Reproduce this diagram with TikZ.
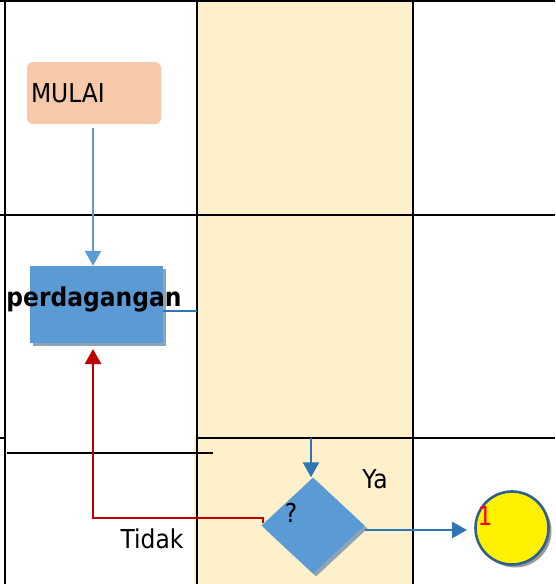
\documentclass[tikz,border=0pt]{standalone}
\usepackage{fontspec}
\setmainfont{DejaVu Sans}[FakeStretch=0.9]
\usetikzlibrary{shapes.geometric,arrows.meta,shadows}
\definecolor{cream}{HTML}{FFF0CC}
\definecolor{peach}{HTML}{F7C9AB}
\definecolor{boxblue}{HTML}{5B9BD5}
\definecolor{darkblue}{HTML}{2E75B6}
\definecolor{shadowgray}{HTML}{8FA3B8}
\definecolor{redline}{HTML}{C00000}
\definecolor{circedge}{HTML}{2F5F8F}
\tikzset{
  grid/.style={black, line width=2.7pt},
  txt/.style={font=\fontsize{26}{30}\selectfont, inner sep=0pt},
  bshadow/.style={drop shadow={shadow xshift=3pt, shadow yshift=-3pt, fill=shadowgray, opacity=1}},
  conn/.style={line width=2.6pt, -{Triangle[width=16pt,length=15pt]}},
}
\begin{document}
\begin{tikzpicture}[x=1pt,y=-1pt]
\useasboundingbox (0,0) rectangle (555,584);
% lane background
\fill[cream] (197,0) rectangle (413,584);
\fill[cream] (194,436) rectangle (197,584);
% grid lines
\draw[grid] (0,0.8) -- (555,0.8);
\draw[grid] (5,0) -- (5,584);
\draw[grid] (197,0) -- (197,584);
\draw[grid] (413,0) -- (413,584);
\draw[grid] (0,215) -- (555,215);
\draw[grid] (0,438) -- (5,438);
\draw[grid] (197,438) -- (555,438);
\draw[grid] (7,453) -- (213,453);
% nodes
\node[rounded corners=6pt, fill=peach, minimum width=134pt, minimum height=62pt,
      text width=126pt, inner xsep=4pt, align=left, font=\fontsize{26}{30}\selectfont]
      (mulai) at (94,93) {MULAI};
\node[fill=boxblue, bshadow, minimum width=133pt, minimum height=77pt, inner sep=0pt]
      (pb) at (96.5,304.5) {};
\node[txt, font=\fontsize{26}{30}\selectfont\bfseries] (pblbl) at (94,299) {perdagangan};
\node[diamond, fill=boxblue, bshadow, minimum width=103pt, minimum height=96pt, inner sep=0pt]
      (dec) at (313,525.5) {};
\node[txt] (q) at (291,513) {?};
\node[circle, fill=yellow, draw=circedge, line width=2.6pt, minimum size=73pt, inner sep=0pt,
      drop shadow={shadow xshift=3pt, shadow yshift=-3pt, fill=gray!80, opacity=1}]
      (c1) at (512,528) {};
\node[txt, text=red] (one) at (485,516) {1};
\node[txt] (ya) at (375,479) {Ya};
\node[txt] (tidak) at (152,539) {Tidak};
% connectors
\coordinate (lane2) at (197,311);
\coordinate (dtop) at (311,438);
\coordinate (tick) at (263,523);
\coordinate (rcorner) at (93,518);
\coordinate (mstart) at (93,128);
\draw[conn, boxblue] (mstart) -- (mstart |- pb.north);
\draw[darkblue, line width=2.6pt] (pb.east |- lane2) -- (lane2);
\draw[conn, darkblue] (dtop) -- (dtop |- dec.north);
\draw[conn, darkblue] (365,530) -- (467,530);
\draw[conn, redline] (tick) -- (tick |- rcorner) -- (rcorner) -- (93,349);
\end{tikzpicture}
\end{document}
